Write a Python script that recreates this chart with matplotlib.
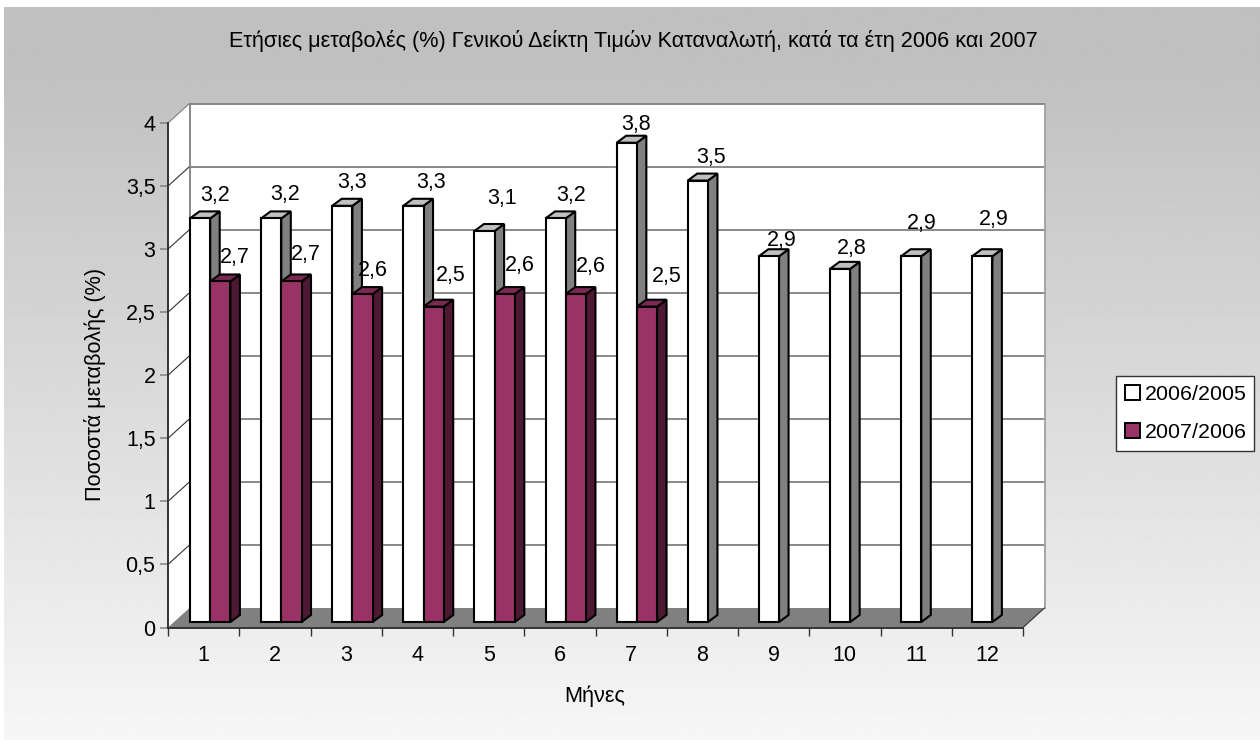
import numpy as np
import matplotlib
matplotlib.use('Agg')
import matplotlib.pyplot as plt
from matplotlib.patches import Polygon, Patch

plt.rcParams['font.family'] = ['Liberation Sans', 'DejaVu Sans']

# Values
months = [str(m) for m in range(1, 13)]
series_2006 = [3.2, 3.2, 3.3, 3.3, 3.1, 3.2, 3.8, 3.5, 2.9, 2.8, 2.9, 2.9]
series_2007 = [2.7, 2.7, 2.6, 2.5, 2.6, 2.6, 2.5]
y_ticks = [0, 0.5, 1, 1.5, 2, 2.5, 3, 3.5, 4]
y_tick_labels = ['0', '0,5', '1', '1,5', '2', '2,5', '3', '3,5', '4']

# Labels were moved by hand in the original, (dx, dy) in px from the bar's top left corner
nudge_2006 = [(25, 23), (24, 24), (20, 23), (28, 23), (28, 33), (26, 23), (19, 18), (23, 23), (23, 16), (22, 20), (21, 33), (22, 37)]
nudge_2007 = [(25, 24), (25, 27), (20, 24), (27, 31), (25, 29), (25, 28), (30, 30)]

W, H = 1260, 740
fig = plt.figure(figsize=(W / 100, H / 100), dpi=100, facecolor='white')

# Background gradient
bg = fig.add_axes([4 / W, 0, 1 - 4 / W, 1 - 7 / H], zorder=0)
grad = np.interp(np.linspace(0, 1, 256), [0, 0.08, 1], [0.753, 0.753, 0.965]).reshape(-1, 1)
bg.imshow(grad, aspect='auto', cmap='gray', vmin=0, vmax=1)
bg.axis('off')

# Main axes sit on the front plane of the fake 3D box
x0, x1, y0, y1 = 168, 1023, 627.5, 123
ax = fig.add_axes([x0 / W, 1 - y0 / H, (x1 - x0) / W, (y0 - y1) / H], zorder=1)
ax.set_xlim(0, 12)
ax.set_ylim(0, 4)
ax.patch.set_visible(False)

px_x = 12 / (x1 - x0)
px_y = 4 / (y0 - y1)
depth_x = 21.5 * px_x
depth_y = 19.5 * px_y
GRAY = '#808080'


def poly(pts, fc, ec='none', lw=0, z=1):
    ax.add_patch(Polygon(pts, closed=True, facecolor=fc, edgecolor=ec, linewidth=lw,
                         zorder=z, clip_on=False, joinstyle='miter'))


# Walls and floor
poly([(0, 0), (depth_x, depth_y), (depth_x, 4 + depth_y), (0, 4)], 'white')
poly([(depth_x, depth_y), (12 + depth_x, depth_y), (12 + depth_x, 4 + depth_y), (depth_x, 4 + depth_y)], 'white')
poly([(0, 0), (12, 0), (12 + depth_x, depth_y), (depth_x, depth_y)], GRAY)

# Grid on the walls
for v in y_ticks[1:]:
    ax.plot([depth_x, 12 + depth_x], [v + depth_y, v + depth_y], color=GRAY, lw=1.3, zorder=2, clip_on=False)
    ax.plot([0, depth_x], [v, v + depth_y], color='#333333' if v < 4 else GRAY, lw=0.8, zorder=2, clip_on=False)
ax.plot([depth_x, depth_x], [depth_y, 4 + depth_y], color=GRAY, lw=1.3, zorder=2, clip_on=False)
ax.plot([12 + depth_x, 12 + depth_x], [depth_y, 4 + depth_y], color='#a0a0a0', lw=1.3, zorder=2, clip_on=False)
ax.plot([12, 12 + depth_x], [0, depth_y], color='#333333', lw=0.8, zorder=2, clip_on=False)

# Bars
bar_pitch = 0.998
bar_w = 20.2 * px_x
bar_start = 22 * px_x
base = 5.5 * px_y
bar_dx = 9.5 * px_x
bar_dy = 7 * px_y


def bar3d(left, value, face, side, top):
    right = left + bar_w
    h = value + base
    pts_side = [(right, base), (right + bar_dx, base + bar_dy), (right + bar_dx, h + bar_dy), (right, h)]
    pts_top = [(left, h), (right, h), (right + bar_dx, h + bar_dy), (left + bar_dx, h + bar_dy)]
    pts_face = [(left, base), (right, base), (right, h), (left, h)]
    poly(pts_side, side, 'black', 1.5, z=3)
    poly(pts_top, top, 'black', 1.5, z=3)
    poly(pts_face, face, 'black', 1.5, z=3)


for i, v in enumerate(series_2006):
    bar3d(i * bar_pitch + bar_start, v, 'white', GRAY, '#c0c0c0')
for i, v in enumerate(series_2007):
    bar3d(i * bar_pitch + bar_start + bar_w, v, '#993366', '#4d1933', '#7a2952')

# Data labels
for i, v in enumerate(series_2006):
    dx, dy = nudge_2006[i]
    ax.annotate(f'{v:.1f}'.replace('.', ','), (i * bar_pitch + bar_start, v + base), xytext=(dx * 0.72, dy * 0.72),
                textcoords='offset points', ha='center', va='center', fontsize=15.5, zorder=4, annotation_clip=False)
for i, v in enumerate(series_2007):
    dx, dy = nudge_2007[i]
    ax.annotate(f'{v:.1f}'.replace('.', ','), (i * bar_pitch + bar_start + bar_w, v + base), xytext=(dx * 0.72, dy * 0.72),
                textcoords='offset points', ha='center', va='center', fontsize=15.5, zorder=4, annotation_clip=False)

# Axes, ticks
for s in ['top', 'right']:
    ax.spines[s].set_visible(False)
for s in ['left', 'bottom']:
    ax.spines[s].set_color('#333333')
    ax.spines[s].set_linewidth(1.4)
    ax.spines[s].set_zorder(5)
ax.set_yticks(y_ticks)
ax.set_yticklabels(y_tick_labels, fontsize=15.5)
ax.set_xticks(np.arange(0, 13))
ax.set_xticks(np.arange(0.5, 12), minor=True)
ax.set_xticklabels([])
ax.set_xticklabels(months, minor=True, fontsize=15.5)
ax.tick_params(axis='y', length=6, width=1.1, color=GRAY, pad=3)
ax.tick_params(axis='x', which='major', length=6, width=1, color='#333333')
ax.tick_params(axis='x', which='minor', length=0, pad=12.5)

# Titles
fig.text(633 / W, 1 - 40.5 / H, 'Ετήσιες μεταβολές (%) Γενικού Δείκτη Τιμών Καταναλωτή, κατά τα έτη 2006 και 2007',
         ha='center', va='center', fontsize=15.6, zorder=6)
fig.text(595 / W, 1 - 696 / H, 'Μήνες', ha='center', va='center', fontsize=15.6, zorder=6)
fig.text(95 / W, 1 - 384 / H, 'Ποσοστά μεταβολής (%)', ha='center', va='center', rotation=90, fontsize=15.6, zorder=6)

# Legend
handles = [Patch(facecolor='white', edgecolor='black', linewidth=1.4, label='2006/2005'),
           Patch(facecolor='#993366', edgecolor='black', linewidth=1.4, label='2007/2006')]
leg = fig.legend(handles=handles, loc='lower left', bbox_to_anchor=(1116 / W, 1 - 451 / H, 138 / W, 78 / H),
                 mode='expand', fontsize=15.4, frameon=True, fancybox=False, framealpha=1, edgecolor='#333333',
                 borderaxespad=0, borderpad=0.42, handlelength=0.7, handleheight=0.7, handletextpad=0.25,
                 labelspacing=0.9)
leg.get_frame().set_linewidth(1)
leg.set_zorder(6)

fig.savefig('out.png', dpi=100)
